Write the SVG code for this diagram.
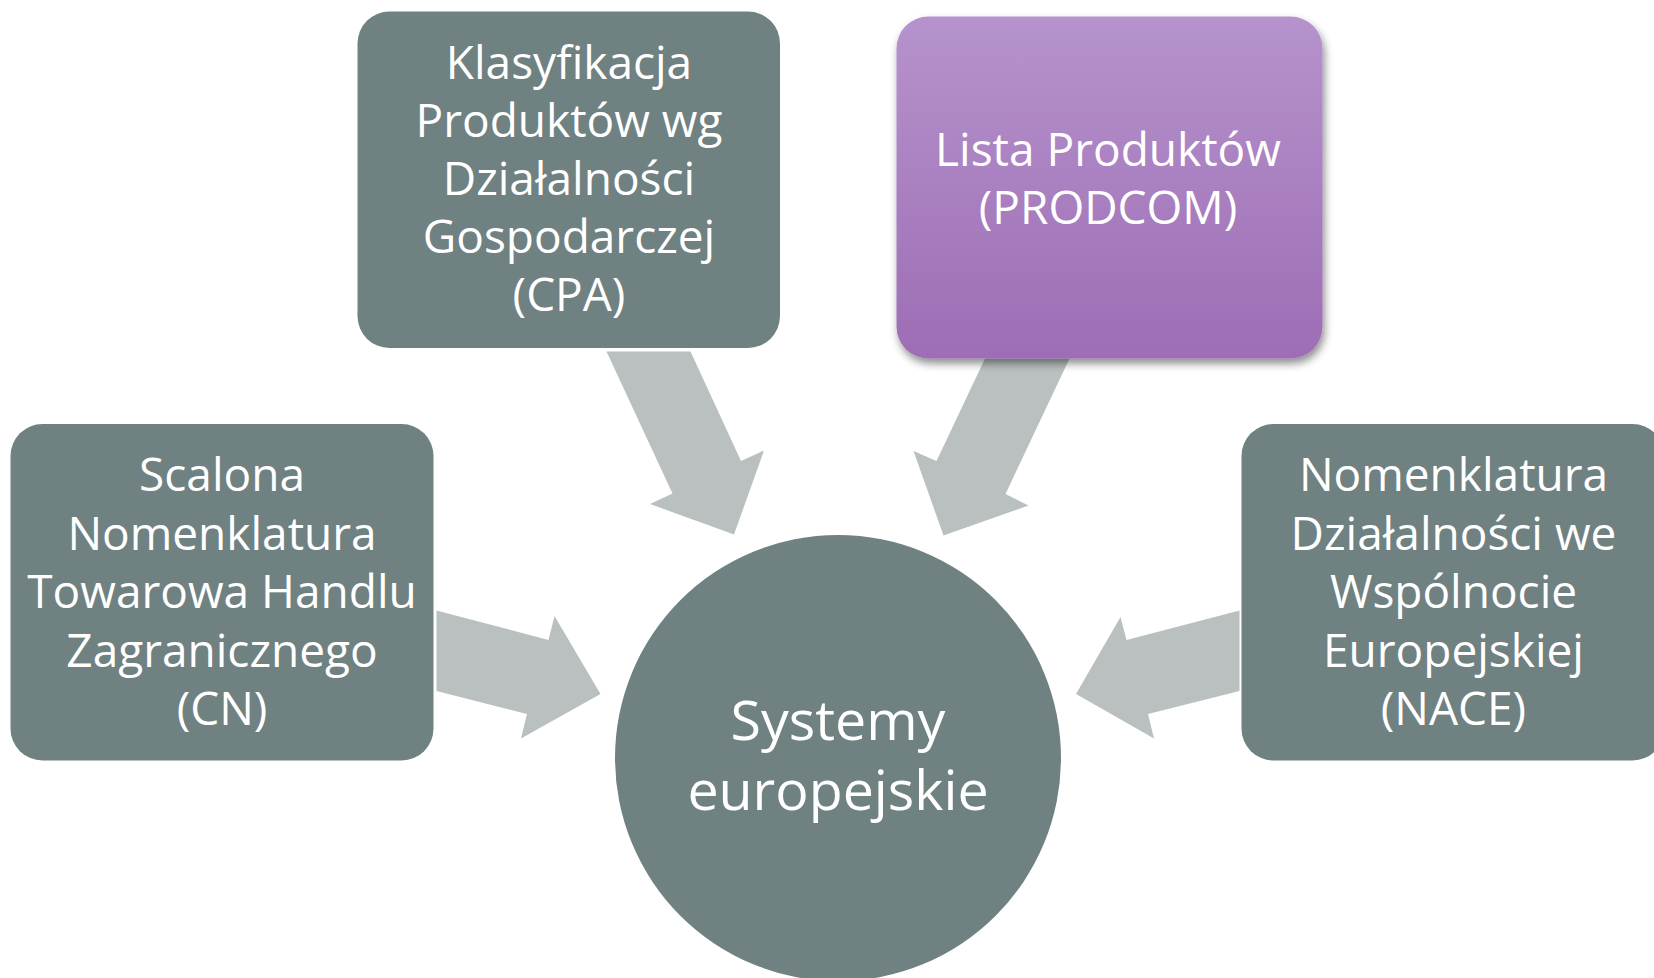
<svg xmlns="http://www.w3.org/2000/svg" width="1654" height="978" viewBox="0 0 1654 978">
<defs>
<linearGradient id="purple" x1="0" y1="0" x2="0" y2="1">
<stop offset="0" stop-color="#b693cc"/>
<stop offset="1" stop-color="#9d6db5"/>
</linearGradient>
<filter id="shadow" x="-10%" y="-10%" width="125%" height="130%">
<feDropShadow dx="2" dy="5" stdDeviation="4" flood-color="#000" flood-opacity="0.45"/>
</filter>
<style>
.box{fill:#6f8181}
.arrow{fill:#bac0c0}
.t{font-family:"Open Sans","Noto Sans",sans-serif;font-size:46px;fill:#fff;text-anchor:middle}
.tc{font-family:"Open Sans","Noto Sans",sans-serif;font-size:55.5px;fill:#fff;text-anchor:middle}
</style>
</defs>
<rect width="1654" height="978" fill="#fff"/>
<g id="connectors">
<polygon class="arrow" points="606.5,351.5 690.5,351.5 741,461 764,450.5 734,534.5 650,504 672.5,493.5"/>
<polygon class="arrow" points="985,358.5 1069.5,358.5 1005.5,494 1028.5,505.5 943.5,535.5 913.5,451 936.5,461"/>
<polygon class="arrow" points="436.5,610.5 548.5,640 554.5,616 600.5,694 521,738.5 527,714 436.5,691"/>
<polygon class="arrow" points="1239.5,610.5 1126.5,640 1120.5,617 1076,694 1154,738.5 1148,714 1239.5,691"/>
</g>
<g id="node-center">
<circle class="box" cx="838" cy="758" r="223"/>
<text class="tc" x="838" y="740">Systemy</text>
<text class="tc" x="838" y="810">europejskie</text>
</g>
<g id="node-cn">
<rect class="box" x="10.5" y="424" width="423" height="336.5" rx="32"/>
<text class="t" x="222" y="491">Scalona</text>
<text class="t" x="222" y="550">Nomenklatura</text>
<text class="t" x="222" y="608">Towarowa Handlu</text>
<text class="t" x="222" y="667">Zagranicznego</text>
<text class="t" x="222" y="725">(CN)</text>
</g>
<g id="node-cpa">
<rect class="box" x="357.5" y="11.5" width="422.5" height="336.5" rx="32"/>
<text class="t" x="569" y="79">Klasyfikacja</text>
<text class="t" x="569" y="137">Produktów wg</text>
<text class="t" x="569" y="195">Działalności</text>
<text class="t" x="569" y="253">Gospodarczej</text>
<text class="t" x="569" y="311">(CPA)</text>
</g>
<g id="node-prodcom">
<rect x="896.5" y="16.5" width="426" height="342" rx="32" fill="url(#purple)" filter="url(#shadow)"/>
<text class="t" x="1108" y="166">Lista Produktów</text>
<text class="t" x="1108" y="224">(PRODCOM)</text>
</g>
<g id="node-nace">
<rect class="box" x="1241.5" y="424" width="423" height="336.5" rx="32"/>
<text class="t" x="1453.5" y="491">Nomenklatura</text>
<text class="t" x="1453.5" y="550">Działalności we</text>
<text class="t" x="1453.5" y="608">Wspólnocie</text>
<text class="t" x="1453.5" y="667">Europejskiej</text>
<text class="t" x="1453.5" y="725">(NACE)</text>
</g>
</svg>
